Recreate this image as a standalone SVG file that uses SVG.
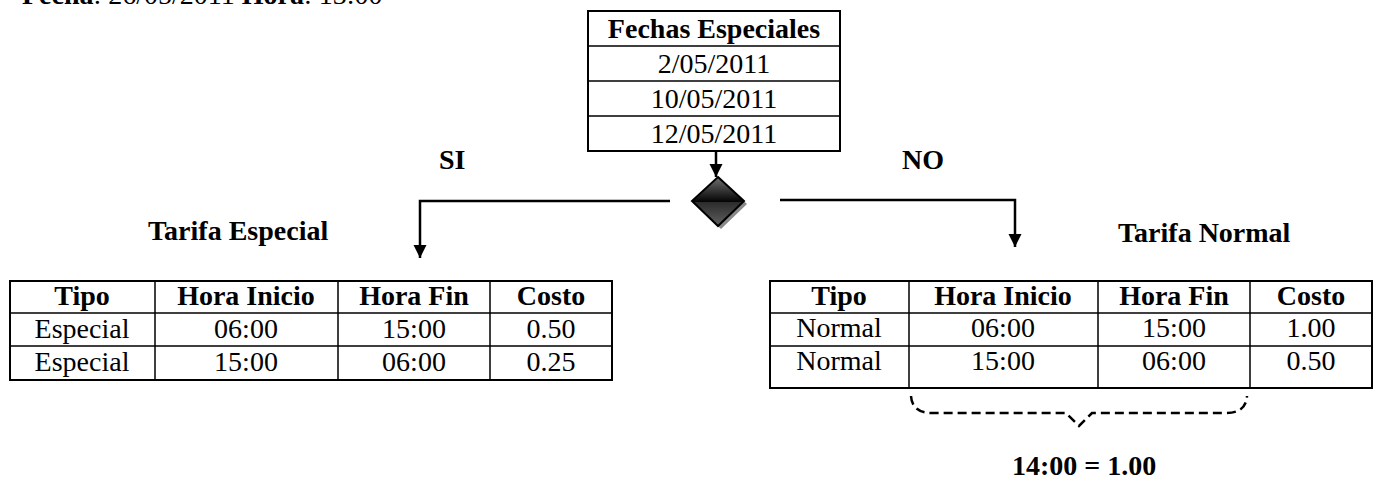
<svg xmlns="http://www.w3.org/2000/svg" width="1385" height="481" viewBox="0 0 1385 481">
<style>
text{font-family:"Liberation Serif","Times New Roman",serif;font-size:28px;fill:#000}
.b{font-weight:bold}
.c{text-anchor:middle}
.frame{fill:#fff;stroke:#000;stroke-width:2}
.grid{stroke:#000;stroke-width:1.5;fill:none}
.conn{stroke:#000;stroke-width:2.5;fill:none}
.brace{stroke:#000;stroke-width:2.5;fill:none;stroke-dasharray:9 5}
</style>
<defs>
<linearGradient id="dg" x1="0" y1="0" x2="0" y2="1">
<stop offset="0" stop-color="#707070"/>
<stop offset="0.5" stop-color="#050505"/>
<stop offset="0.5" stop-color="#2a2a2a"/>
<stop offset="1" stop-color="#606060"/>
</linearGradient>
<marker id="ah" viewBox="0 0 10 10" refX="10" refY="5" markerWidth="5.4" markerHeight="5.4" markerUnits="strokeWidth" orient="auto">
<path d="M0,0 L10,5 L0,10 z" fill="#000"/>
</marker>
</defs>

<g id="header-line">
<text x="22" y="4"><tspan class="b">Fecha</tspan>: 26/05/2011 <tspan class="b">Hora</tspan>: 13:00</text>
</g>

<g id="fechas-especiales">
<rect class="frame" x="588" y="11" width="252" height="140"/>
<path class="grid" d="M588,46H840M588,81H840M588,116H840"/>
<text class="b c" x="714" y="38">Fechas Especiales</text>
<text class="c" x="714" y="73">2/05/2011</text>
<text class="c" x="714" y="108">10/05/2011</text>
<text class="c" x="714" y="143">12/05/2011</text>
</g>

<g id="decision">
<polygon points="721,180 747,204 721,229 695,204" fill="#8a8a8a"/>
<polygon points="718,177 744,201 718,226 692,201" fill="url(#dg)" stroke="#000" stroke-width="2"/>
</g>

<g id="connectors">
<line class="conn" x1="716" y1="151" x2="716" y2="177" marker-end="url(#ah)"/>
<polyline class="conn" points="670,201 420,201 420,258" marker-end="url(#ah)"/>
<polyline class="conn" points="780,200 1015,200 1015,247" marker-end="url(#ah)"/>
</g>

<g id="label-si"><text class="b" x="439" y="169">SI</text></g>
<g id="label-no"><text class="b" x="902" y="169">NO</text></g>
<g id="label-tarifa-especial"><text class="b" x="148" y="240">Tarifa Especial</text></g>
<g id="label-tarifa-normal"><text class="b" x="1118" y="242">Tarifa Normal</text></g>

<g id="tabla-especial">
<rect class="frame" x="10" y="281" width="602" height="99"/>
<path class="grid" d="M10,313H612M10,346H612M155,281V380M338,281V380M490,281V380"/>
<text class="b c" x="82" y="305">Tipo</text>
<text class="b c" x="246" y="305">Hora Inicio</text>
<text class="b c" x="414" y="305">Hora Fin</text>
<text class="b c" x="551" y="305">Costo</text>
<text class="c" x="82" y="338">Especial</text>
<text class="c" x="246" y="338">06:00</text>
<text class="c" x="414" y="338">15:00</text>
<text class="c" x="551" y="338">0.50</text>
<text class="c" x="82" y="371">Especial</text>
<text class="c" x="246" y="371">15:00</text>
<text class="c" x="414" y="371">06:00</text>
<text class="c" x="551" y="371">0.25</text>
</g>

<g id="tabla-normal">
<rect class="frame" x="770" y="281" width="602" height="107"/>
<path class="grid" d="M770,313H1372M770,346H1372M909,281V388M1098,281V388M1250,281V388"/>
<text class="b c" x="839" y="305">Tipo</text>
<text class="b c" x="1003" y="305">Hora Inicio</text>
<text class="b c" x="1174" y="305">Hora Fin</text>
<text class="b c" x="1311" y="305">Costo</text>
<text class="c" x="839" y="337">Normal</text>
<text class="c" x="1003" y="337">06:00</text>
<text class="c" x="1174" y="337">15:00</text>
<text class="c" x="1311" y="337">1.00</text>
<text class="c" x="839" y="370">Normal</text>
<text class="c" x="1003" y="370">15:00</text>
<text class="c" x="1174" y="370">06:00</text>
<text class="c" x="1311" y="370">0.50</text>
</g>

<g id="brace">
<path class="brace" d="M911,396 Q912,413 932,413 L1066,413 L1079,426 L1092,413 L1226,413 Q1246,413 1247,396"/>
</g>
<g id="label-result"><text class="b" x="1012" y="475">14:00 = 1.00</text></g>
</svg>
